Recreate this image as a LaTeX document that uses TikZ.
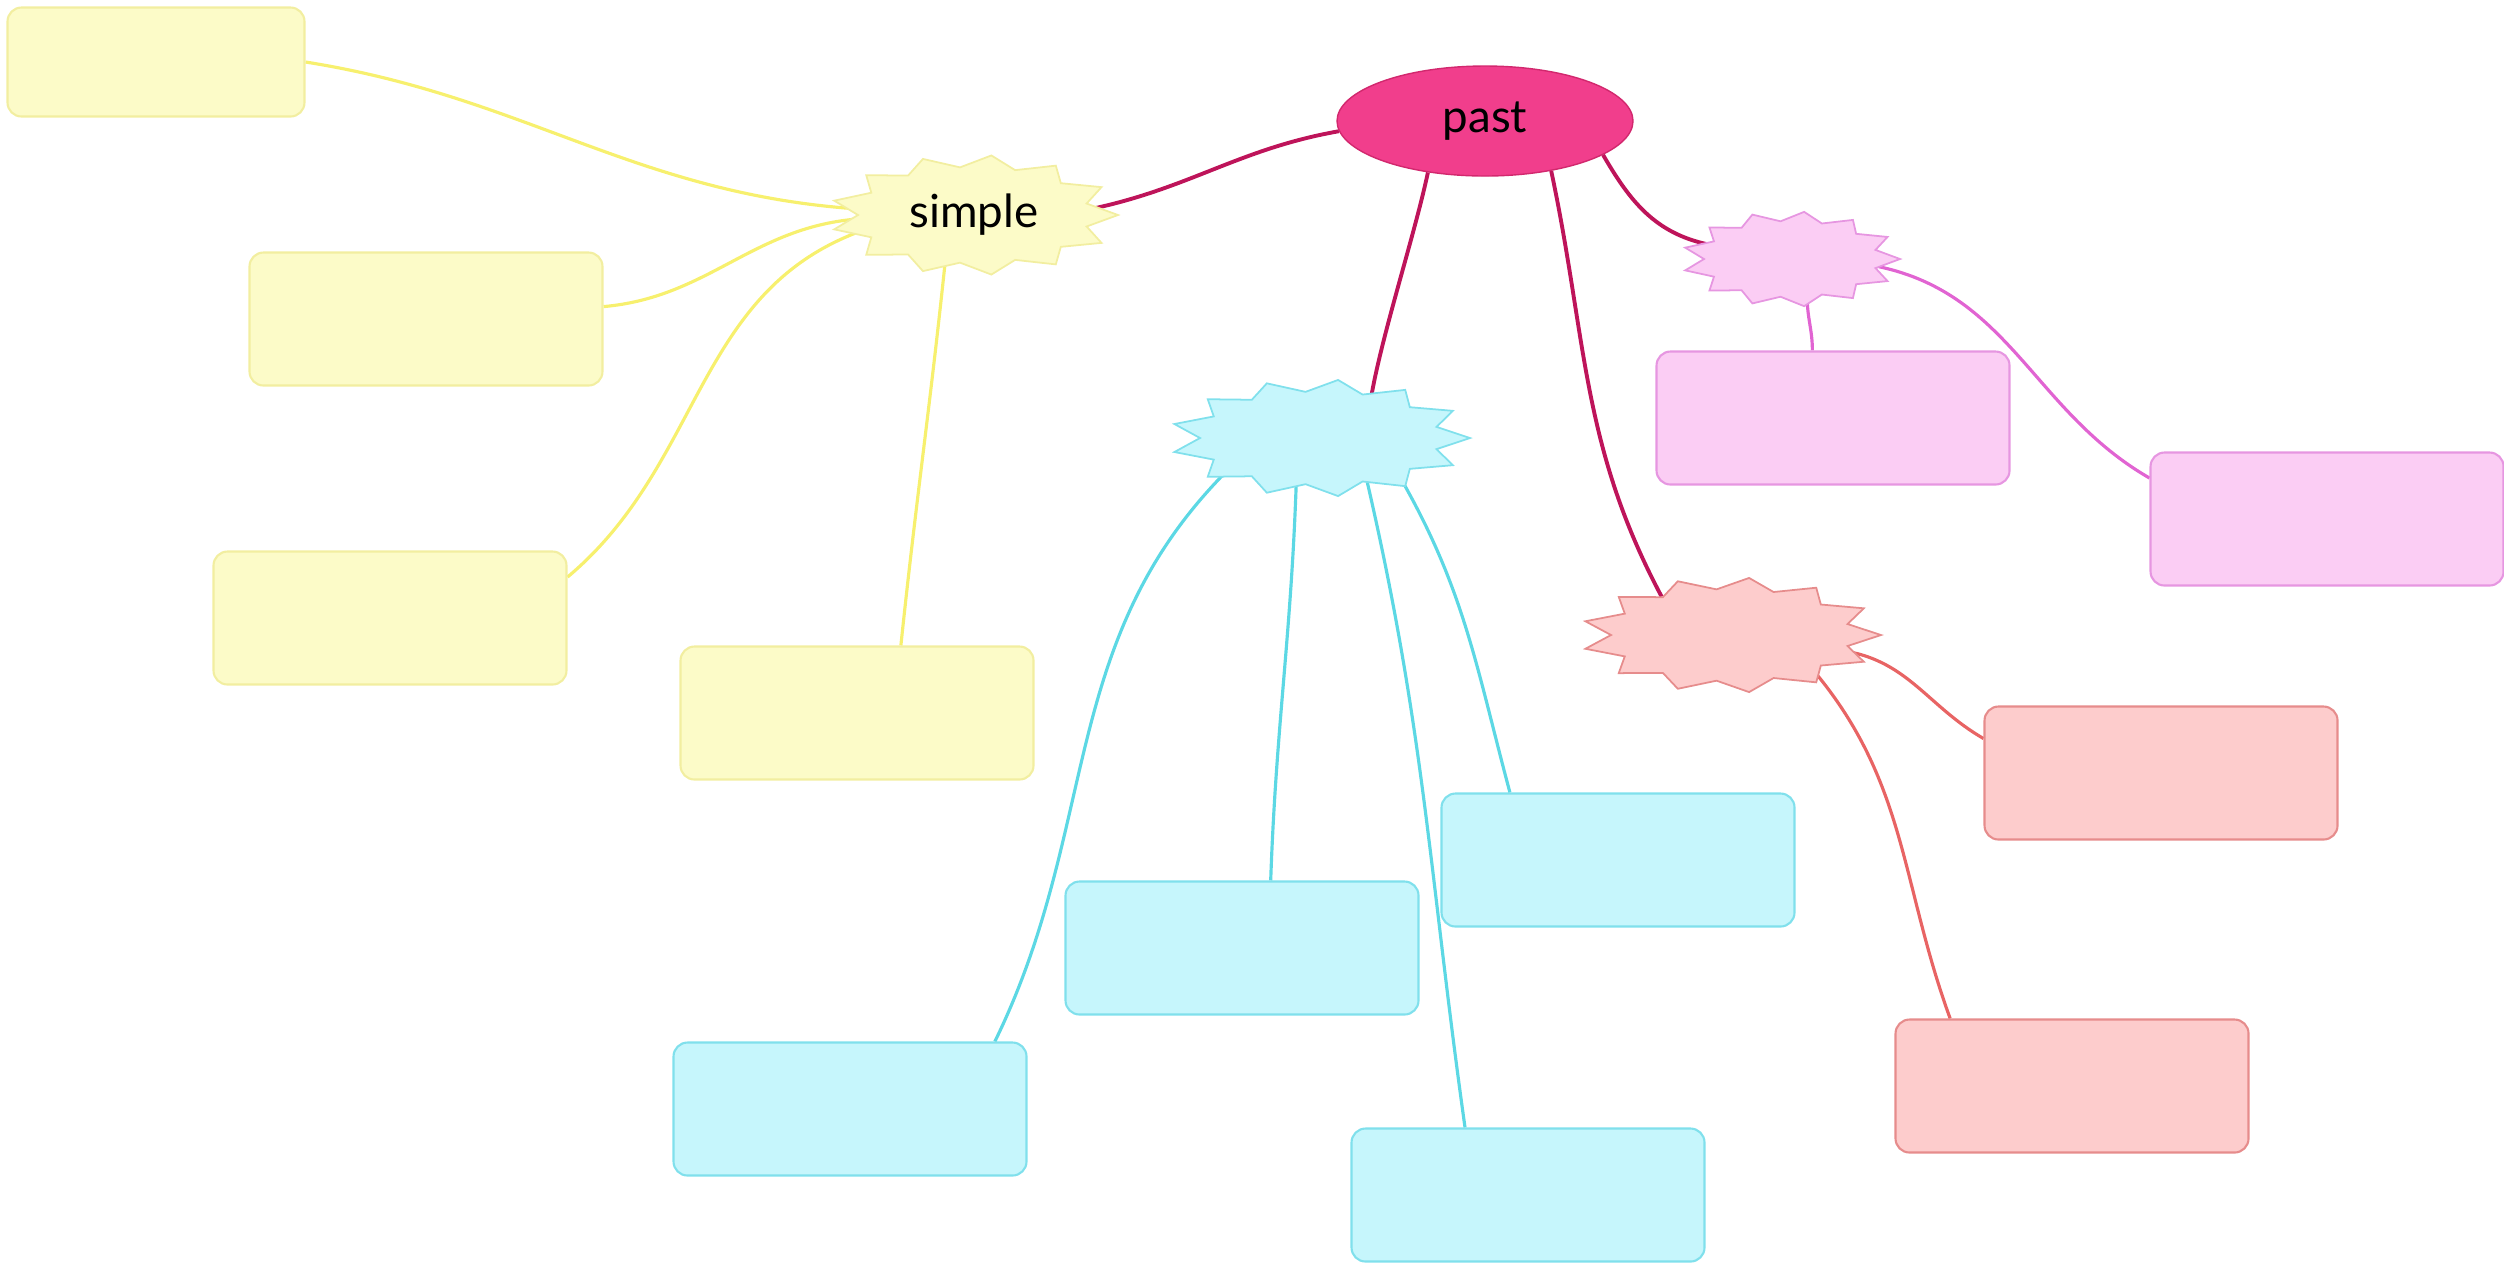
\documentclass[tikz,border=0pt]{standalone}
\usepackage{fontspec}
\setmainfont{Lato}
\usetikzlibrary{shapes.geometric,backgrounds}
\definecolor{fcfbc8}{rgb}{0.988,0.984,0.784}
\definecolor{f2eea0}{rgb}{0.949,0.933,0.627}
\definecolor{f7f06e}{rgb}{0.969,0.941,0.431}
\definecolor{c6f6fc}{rgb}{0.776,0.965,0.988}
\definecolor{xe0ec80}{rgb}{0.502,0.878,0.925}
\definecolor{xd8e45c}{rgb}{0.361,0.847,0.894}
\definecolor{fbcdf4}{rgb}{0.984,0.804,0.957}
\definecolor{e696e1}{rgb}{0.902,0.588,0.882}
\definecolor{e164d2}{rgb}{0.882,0.392,0.824}
\definecolor{fdcccc}{rgb}{0.992,0.8,0.8}
\definecolor{e68c8c}{rgb}{0.902,0.549,0.549}
\definecolor{e86464}{rgb}{0.91,0.392,0.392}
\definecolor{f13e8c}{rgb}{0.945,0.243,0.549}
\definecolor{d2286e}{rgb}{0.824,0.157,0.431}
\definecolor{be145a}{rgb}{0.745,0.078,0.353}

\begin{document}
\begin{tikzpicture}[line cap=round,line join=round,x=1.0cm,y=1.0cm,
  box/.style={rectangle,rounded corners=0.14cm,minimum width=3.53cm,minimum height=1.33cm,inner sep=0pt,line width=0.6pt},
  burst/.style={ellipse,inner sep=0pt},
  link/.style={line width=0.9pt},
  pastlink/.style={line width=1.1pt,color=be145a}]
\useasboundingbox (0,0) rectangle (25.04,-12.63);
\node[ellipse,draw=d2286e,fill=f13e8c,minimum width=2.96cm,minimum height=1.1cm,inner sep=0pt,font=\fontsize{13}{15}\selectfont] (past) at (14.85,-1.21) {past};
\node[burst,minimum width=2.36cm,minimum height=0.98cm,font=\fontsize{13}{15}\selectfont] (simple) at (9.74,-2.15) {simple};
\node[burst,minimum width=2.44cm,minimum height=0.94cm] (cyan) at (13.2,-4.38) {};
\node[burst,minimum width=1.78cm,minimum height=0.76cm] (pink) at (17.91,-2.59) {};
\node[burst,minimum width=2.44cm,minimum height=0.92cm] (red) at (17.31,-6.35) {};
\node[box,draw=f2eea0,fill=fcfbc8,minimum width=2.97cm,minimum height=1.09cm] (y1) at (1.56,-0.62) {};
\node[box,draw=f2eea0,fill=fcfbc8] (y2) at (4.26,-3.19) {};
\node[box,draw=f2eea0,fill=fcfbc8] (y3) at (3.9,-6.18) {};
\node[box,draw=f2eea0,fill=fcfbc8] (y4) at (8.57,-7.13) {};
\node[box,draw=xe0ec80,fill=c6f6fc] (c1) at (8.5,-11.09) {};
\node[box,draw=xe0ec80,fill=c6f6fc] (c2) at (12.42,-9.48) {};
\node[box,draw=xe0ec80,fill=c6f6fc] (c3) at (16.18,-8.6) {};
\node[box,draw=xe0ec80,fill=c6f6fc] (c4) at (15.28,-11.95) {};
\node[box,draw=e696e1,fill=fbcdf4] (p1) at (18.33,-4.18) {};
\node[box,draw=e696e1,fill=fbcdf4] (p2) at (23.27,-5.19) {};
\node[box,draw=e68c8c,fill=fdcccc] (r1) at (21.61,-7.73) {};
\node[box,draw=e68c8c,fill=fdcccc] (r2) at (20.72,-10.86) {};
\begin{scope}[on background layer]
\draw [pastlink] (past.184) to[out=190,in=12] (simple.3);
\draw [pastlink] (past.222) to[out=258,in=80,looseness=0.7] (cyan.40);
\draw [pastlink] (past.323) to[out=282,in=118] (red.151);
\draw [pastlink] (past.344) to[out=300,in=168] (pink.170);
\draw [link,color=f7f06e] (simple.177) to[out=176,in=-9] (y1.east);
\draw [link,color=f7f06e] (simple.182) to[out=185,in=5] (y2.4);
\draw [link,color=f7f06e] (simple.188) to[out=200,in=40] (y3.13);
\draw [link,color=f7f06e] (simple.239) to[out=264,in=84] (y4.57);
\draw [link,color=xd8e45c] (cyan.199) to[out=225,in=64] (c1.25);
\draw [link,color=xd8e45c] (cyan.243) to[out=268,in=88] (c2.67);
\draw [link,color=xd8e45c] (cyan.335) to[out=300,in=105] (c3.148);
\draw [link,color=xd8e45c] (cyan.317) to[out=283,in=98] (c4.133);
\draw [link,color=e164d2] (pink.293) to[out=270,in=90] (p1.107);
\draw [link,color=e164d2] (pink.355) to[out=-12,in=150] (p2.167);
\draw [link,color=e86464] (red.352) to[out=-10,in=150] (r1.169);
\draw [link,color=e86464] (red.337) to[out=-50,in=110] (r2.151);
\draw [shift={(simple.center)},draw=f2eea0,fill=fcfbc8,line width=0.5pt,line join=miter] (0:1.44 and 0.6) \foreach \i in {1,...,13}{ -- ({(\i-0.5)*360/13}:1.16 and 0.48) -- ({\i*360/13}:1.44 and 0.6)} -- cycle;
\draw [shift={(cyan.center)},draw=xe0ec80,fill=c6f6fc,line width=0.5pt,line join=miter] (0:1.5 and 0.585) \foreach \i in {1,...,13}{ -- ({(\i-0.5)*360/13}:1.2 and 0.465) -- ({\i*360/13}:1.5 and 0.585)} -- cycle;
\draw [shift={(pink.center)},draw=e696e1,fill=fbcdf4,line width=0.5pt,line join=miter] (0:1.09 and 0.475) \foreach \i in {1,...,13}{ -- ({(\i-0.5)*360/13}:0.87 and 0.38) -- ({\i*360/13}:1.09 and 0.475)} -- cycle;
\draw [shift={(red.center)},draw=e68c8c,fill=fdcccc,line width=0.5pt,line join=miter] (0:1.5 and 0.575) \foreach \i in {1,...,13}{ -- ({(\i-0.5)*360/13}:1.2 and 0.46) -- ({\i*360/13}:1.5 and 0.575)} -- cycle;
\end{scope}
\end{tikzpicture}
\end{document}
